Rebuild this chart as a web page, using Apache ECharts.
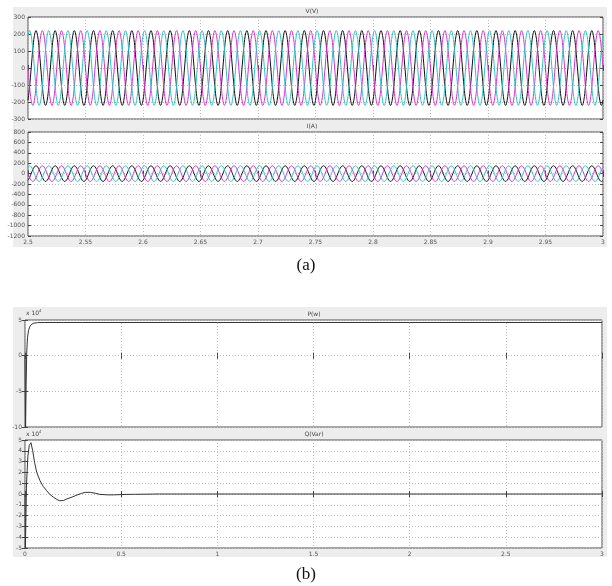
<!DOCTYPE html>
<html>
<head>
<meta charset="utf-8">
<script src="https://cdn.jsdelivr.net/npm/echarts/dist/echarts.min.js"></script>
<style>
  html, body { margin: 0; padding: 0; background: #fff; }
  #main { width: 612px; height: 586px; }
</style>
</head>
<body>
<div id="main"></div>
<script>
// --- (a) steady-state three-phase waveforms, 2.5 s .. 3 s, 60 Hz ---
// one period of each trace, 12 samples per cycle
const vCycle = [0, 110, 190, 220, 190, 110, 0, -110, -190, -220, -190, -110]
const iCycle = [0, 75, 130, 150, 130, 75, 0, -75, -130, -150, -130, -75]
// where each phase sits inside that cycle at t = 2.5 s
const phaseNames = ['black', 'magenta', 'cyan']
const phaseColors = ['#111111', '#dd2fd6', '#2ec4c4']
const phaseShift = [10, 6, 2]
const waveStart = 2.5
const waveCycles = 30
const samplesPerSec = 720

const waveTicksX = [2.5, 2.55, 2.6, 2.65, 2.7, 2.75, 2.8, 2.85, 2.9, 2.95, 3]
const vTicks = [-300, -200, -100, 0, 100, 200, 300]
const iTicks = [-1200, -1000, -800, -600, -400, -200, 0, 200, 400, 600, 800]

// --- (b) start-up transient of P and Q, 0 .. 3 s ---
const pTime = [0, 0.003, 0.006, 0.009, 0.013, 0.018, 0.024, 0.032, 0.045, 0.065, 0.1, 0.2, 0.3, 0.5, 1, 1.5, 2, 2.5, 3]
const pValue = [0, -100000, -40000, 5000, 25000, 35000, 40000, 43500, 45500, 46300, 46500, 46500, 46500, 46500, 46500, 46500, 46500, 46500, 46500]
const qTime = [0, 0.002, 0.004, 0.008, 0.015, 0.022, 0.031, 0.04, 0.05, 0.061, 0.078, 0.095, 0.113, 0.13, 0.148, 0.165, 0.179, 0.2, 0.218, 0.245, 0.27, 0.293, 0.313, 0.34, 0.365, 0.39, 0.43, 0.46, 0.52, 0.57, 0.7, 1, 1.5, 2, 2.5, 3]
const qValue = [0, -50000, -30000, 10000, 35000, 45000, 47500, 40000, 29000, 20000, 12300, 7000, 3000, -500, -3000, -5000, -6200, -6000, -4600, -2800, -1000, 500, 1500, 1500, 700, -400, -800, -800, -400, -300, 0, 0, 0, 0, 0, 0]

const transTicksX = [0, 0.5, 1, 1.5, 2, 2.5, 3]
const pTicks = [-100000, -50000, 0, 50000]
const qTicks = [-50000, -40000, -30000, -20000, -10000, 0, 10000, 20000, 30000, 40000, 50000]

// tile the measured cycle over the whole window
function buildWave (cycle, shift) {
  const pts = []
  const n = cycle.length * waveCycles
  for (let k = 0; k <= n; k++) {
    pts.push([waveStart + k / samplesPerSec, cycle[(k + shift) % cycle.length]])
  }
  return pts
}

const labelFont = { fontSize: 6, color: '#555', fontFamily: 'DejaVu Sans' }
const dotted = { show: true, lineStyle: { color: '#bdbdbd', type: [1, 2], width: 1 } }
const tickStyle = { show: true, inside: true, length: 3, lineStyle: { color: '#444', width: 1 } }

function span (ticks) {
  return { min: ticks[0], max: ticks[ticks.length - 1], interval: ticks[1] - ticks[0] }
}

function xPair (grid, ticks, showLabels) {
  return [
    {
      type: 'value', gridIndex: grid, ...span(ticks),
      axisLine: { show: false }, axisTick: tickStyle, splitLine: dotted,
      axisLabel: { show: showLabels, ...labelFont, margin: 3, formatter: v => String(+v.toFixed(2)) }
    },
    {
      type: 'value', gridIndex: grid, position: 'top', ...span(ticks),
      axisLine: { show: false }, axisTick: tickStyle, splitLine: { show: false }, axisLabel: { show: false }
    }
  ]
}

function yPair (grid, ticks, fmt) {
  return [
    {
      type: 'value', gridIndex: grid, ...span(ticks),
      axisLine: { show: false }, axisTick: tickStyle, splitLine: dotted,
      axisLabel: { ...labelFont, margin: 3, formatter: fmt || (v => String(v)) }
    },
    {
      type: 'value', gridIndex: grid, position: 'right', ...span(ticks),
      axisLine: { show: false }, axisTick: tickStyle, splitLine: { show: false }, axisLabel: { show: false }
    }
  ]
}

const gridBox = { show: true, backgroundColor: '#ffffff', borderColor: '#505050', borderWidth: 1 }
const sci = v => String(Math.round(v / 10000))

const series = []
phaseNames.forEach((name, p) => {
  series.push({
    name: 'V ' + name, type: 'line', xAxisIndex: 0, yAxisIndex: 0,
    data: buildWave(vCycle, phaseShift[p]), showSymbol: false, smooth: 0.4,
    lineStyle: { color: phaseColors[p], width: 1 }, itemStyle: { color: phaseColors[p] }
  })
})
phaseNames.forEach((name, p) => {
  series.push({
    name: 'I ' + name, type: 'line', xAxisIndex: 2, yAxisIndex: 2,
    data: buildWave(iCycle, phaseShift[p]), showSymbol: false, smooth: 0.4,
    lineStyle: { color: phaseColors[p], width: 1 }, itemStyle: { color: phaseColors[p] }
  })
})
series.push({
  name: 'P', type: 'line', xAxisIndex: 4, yAxisIndex: 4,
  data: pTime.map((t, i) => [t, pValue[i]]), showSymbol: false,
  lineStyle: { color: '#333', width: 1 }
})
series.push({
  name: 'Q', type: 'line', xAxisIndex: 6, yAxisIndex: 6,
  data: qTime.map((t, i) => [t, qValue[i]]), showSymbol: false,
  lineStyle: { color: '#333', width: 1 }
})

const titleText = (text, x, y) => ({
  type: 'text', x: x, y: y,
  style: { text: text, fontSize: 6, fill: '#444', fontFamily: 'DejaVu Sans', textAlign: 'center', textVerticalAlign: 'middle' }
})
const expText = (x, y) => ({
  type: 'text', x: x, y: y,
  style: {
    text: 'x 10{s|4}', fontSize: 6, fill: '#444', fontFamily: 'DejaVu Sans', textVerticalAlign: 'middle',
    rich: { s: { fontSize: 4, fill: '#444', verticalAlign: 'top', padding: [0, 0, 4, 0] } }
  }
})

const chart = echarts.init(document.getElementById('main'))
chart.setOption({
  animation: false,
  grid: [
    { left: 28, top: 17, width: 575, height: 102, ...gridBox },
    { left: 28, top: 132, width: 575, height: 104, ...gridBox },
    { left: 25, top: 320, width: 577, height: 107, ...gridBox },
    { left: 25, top: 440, width: 577, height: 108, ...gridBox }
  ],
  xAxis: [
    ...xPair(0, waveTicksX, false),
    ...xPair(1, waveTicksX, true),
    ...xPair(2, transTicksX, false),
    ...xPair(3, transTicksX, true)
  ],
  yAxis: [
    ...yPair(0, vTicks),
    ...yPair(1, iTicks),
    ...yPair(2, pTicks, sci),
    ...yPair(3, qTicks, sci)
  ],
  series: series,
  graphic: [
    { type: 'rect', z: -10, shape: { x: 13, y: 7, width: 594, height: 240 }, style: { fill: '#ededed' } },
    { type: 'rect', z: -10, shape: { x: 13, y: 307, width: 594, height: 250 }, style: { fill: '#ededed' } },
    titleText('V(V)', 312, 11),
    titleText('I(A)', 312, 126),
    titleText('P(w)', 314, 314),
    titleText('Q(Var)', 314, 434),
    expText(26, 313),
    expText(26, 434),
    {
      type: 'text', x: 306, y: 266,
      style: { text: '(a)', fontSize: 17, fill: '#111', fontFamily: 'Liberation Serif', textAlign: 'center', textVerticalAlign: 'middle' }
    },
    {
      type: 'text', x: 306, y: 575,
      style: { text: '(b)', fontSize: 17, fill: '#111', fontFamily: 'Liberation Serif', textAlign: 'center', textVerticalAlign: 'middle' }
    }
  ]
})
</script>
</body>
</html>
